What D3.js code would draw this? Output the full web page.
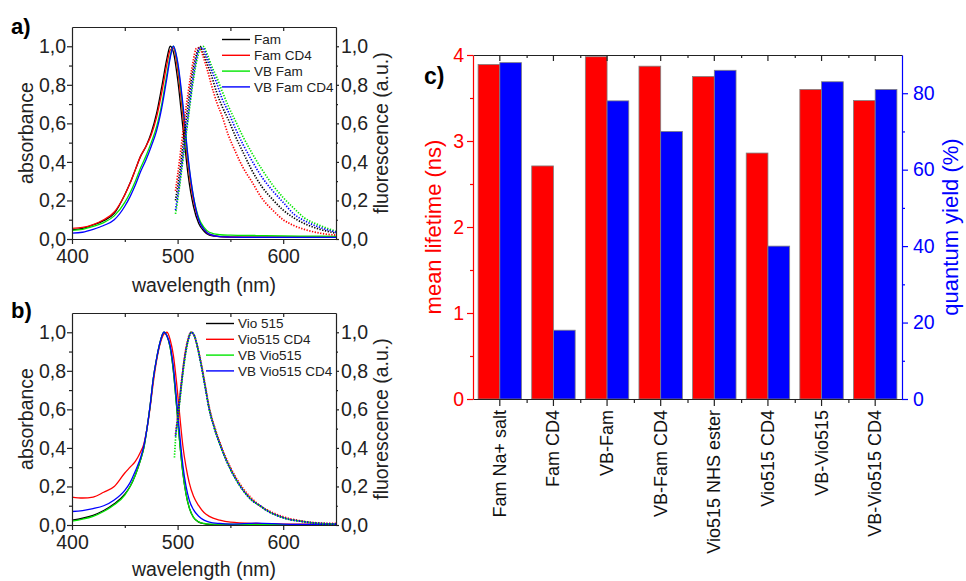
<!DOCTYPE html>
<html>
<head>
<meta charset="utf-8">
<script src="https://cdn.jsdelivr.net/npm/d3@7"></script>
<style>
body { margin: 0; background: #fff; }
svg { display: block; font-family: "Liberation Sans", Arial, sans-serif; }
</style>
</head>
<body>
<div id="chart"></div>
<script>
// ---- datos panel a) Fam ----
const absWlA = [400,410,420,430,440,450,455,460,465,470,475,480,485,490,493,496,500,505,510,515,520,525,530,540,550,575,600,625,650]
const absFam      = [.047,.055,.073,.095,.133,.23,.29,.36,.43,.48,.55,.65,.79,.94,1.0,.97,.83,.58,.33,.17,.08,.04,.02,.012,.01,.01,.01,.01,.01]
const absFamCD4   = [.055,.06,.075,.1,.14,.23,.29,.36,.43,.48,.54,.63,.76,.91,.98,.99,.88,.64,.38,.2,.1,.05,.025,.012,.01,.008,.008,.01,.01]
const absVBFam    = [.045,.05,.065,.085,.12,.19,.24,.3,.37,.43,.5,.58,.7,.86,.95,1.0,.91,.68,.41,.22,.11,.06,.035,.022,.02,.018,.016,.015,.014]
const absVBFamCD4 = [.03,.035,.05,.07,.1,.17,.22,.28,.35,.41,.48,.56,.68,.84,.94,1.0,.92,.7,.42,.22,.1,.05,.025,.012,.01,.008,.008,.008,.008]

const flWlA = [498,500,503,506,510,514,518,521,524,528,532,537,542,548,555,562,570,580,590,600,610,620,635,650]
const flFam      = [.2,.27,.39,.53,.7,.86,.96,1.0,.97,.91,.85,.76,.69,.62,.53,.45,.36,.27,.205,.15,.11,.08,.05,.03]
const flFamCD4   = [.25,.33,.46,.6,.76,.9,.99,.99,.95,.88,.8,.71,.64,.54,.45,.37,.3,.21,.15,.1,.07,.05,.03,.02]
const flVBFam    = [.13,.2,.32,.45,.62,.79,.92,.98,1.0,.96,.9,.84,.77,.69,.61,.53,.45,.36,.28,.215,.16,.11,.07,.04]
const flVBFamCD4 = [.15,.22,.34,.47,.64,.81,.94,.99,.99,.94,.88,.81,.73,.66,.57,.49,.41,.32,.25,.19,.13,.095,.06,.035]

// ---- datos panel b) Vio515 ----
const absWlB = [400,410,420,430,440,450,455,460,465,468,471,474,477,480,484,487,490,493,496,499,502,505,508,511,515,520,525,530,540,550,575,600,625,650]
const absVio      = [.025,.035,.05,.075,.11,.16,.2,.26,.34,.4,.5,.62,.76,.86,.96,1.0,.98,.92,.8,.62,.43,.27,.16,.09,.04,.015,.007,.003,0,0,0,0,0,0]
const absVioCD4   = [.145,.14,.145,.17,.2,.27,.3,.33,.38,.42,.5,.61,.74,.85,.95,.99,1.0,.96,.88,.74,.57,.41,.3,.22,.15,.1,.065,.045,.025,.015,.008,.005,.004,.004]
const absVBVio    = [.02,.03,.045,.07,.105,.155,.2,.26,.34,.4,.5,.62,.76,.86,.96,1.0,.98,.92,.8,.62,.43,.27,.16,.09,.04,.016,.008,.005,.005,.004,.002,.002,.002,.002]
const absVBVioCD4 = [.07,.075,.085,.1,.13,.18,.22,.28,.35,.41,.5,.62,.76,.86,.96,1.0,.98,.93,.82,.65,.47,.31,.2,.13,.08,.045,.025,.015,.008,.005,.01,.005,.003,.003]

const flWlB = [497,498,500,502,504,506,508,510,513,516,519,522,526,530,535,540,545,550,556,562,570,578,586,594,605,616,630,650]
const flVio      = [null,null,.55,.65,.75,.84,.91,.96,1.0,.98,.92,.84,.72,.6,.5,.42,.35,.29,.23,.18,.13,.1,.07,.05,.03,.02,.01,.005]
const flVioCD4   = [null,.47,.56,.66,.76,.85,.92,.97,1.0,.98,.92,.85,.73,.61,.51,.43,.36,.3,.24,.19,.14,.1,.075,.055,.035,.022,.012,.008]
const flVBVio    = [.35,.44,.54,.64,.74,.83,.9,.96,1.0,.98,.92,.84,.72,.6,.5,.42,.35,.29,.23,.18,.13,.1,.07,.05,.03,.02,.01,.005]
const flVBVioCD4 = [null,.46,.55,.65,.75,.84,.91,.96,1.0,.98,.92,.84,.72,.6,.5,.42,.35,.29,.23,.18,.13,.1,.07,.05,.03,.02,.01,.006]

// ---- datos panel c) ----
const categories = ["Fam Na+ salt", "Fam CD4", "VB-Fam", "VB-Fam CD4", "Vio515 NHS ester", "Vio515 CD4", "VB-Vio515", "VB-Vio515 CD4"]
const lifetime = [3.89, 2.71, 3.98, 3.87, 3.75, 2.86, 3.60, 3.47]
const quantumYield = [88, 18, 78, 70, 86, 40, 83, 81]

// ticks
const specTicks = [0, 0.2, 0.4, 0.6, 0.8, 1.0]
const specMinor = [0.1, 0.3, 0.5, 0.7, 0.9]
const wlTicks = [400, 500, 600]
const ltTicks = [0, 1, 2, 3, 4]
const ltMinor = [0.5, 1.5, 2.5, 3.5]
const qyTicks = [0, 20, 40, 60, 80]
const qyMinor = [10, 30, 50, 70]

const namesA = ["Fam", "Fam CD4", "VB Fam", "VB Fam CD4"]
const namesB = ["Vio 515", "Vio515 CD4", "VB Vio515", "VB Vio515 CD4"]
const colors = ["#000000", "#ff0000", "#00e600", "#0000ff"]

// constantes
const width = 966
const height = 581
const font = "Liberation Sans, Arial, sans-serif"
const commaFmt = d3.formatLocale({decimal: ",", thousands: ".", grouping: [3], currency: ["", ""]}).format(".1f")
const intFmt = d3.format("d")

const svg = d3.select("div#chart")
    .append("svg")
    .attr("width", width)
    .attr("height", height)

svg.append("rect").attr("width", width).attr("height", height).attr("fill", "#fff")

function styleAxis(g, color, size) {
    g.attr("font-size", size).attr("font-family", font)
    g.selectAll(".domain, .tick line").attr("stroke", color).attr("stroke-width", 1.2)
    g.selectAll(".tick text").attr("fill", color)
}

// panel de espectros
function drawSpectrum(cfg) {
    const x = d3.scaleLinear().domain([400, 650]).range([72, 336])
    const y = d3.scaleLinear().domain([0, 1.1]).range([cfg.bottom, cfg.top])
    const g = svg.append("g")

    const line = d3.line()
        .defined(d => d[1] != null)
        .x(d => x(d[0]))
        .y(d => y(d[1]))
        .curve(d3.curveMonotoneX)

    cfg.abs.forEach((vals, i) => {
        g.append("path")
            .attr("d", line(cfg.absWl.map((w, k) => [w, vals[k]])))
            .attr("fill", "none")
            .attr("stroke", colors[i])
            .attr("stroke-width", 1.3)
    })
    cfg.fl.forEach((vals, i) => {
        g.append("path")
            .attr("d", line(cfg.flWl.map((w, k) => [w, vals[k]])))
            .attr("fill", "none")
            .attr("stroke", colors[i])
            .attr("stroke-width", 1.7)
            .attr("stroke-dasharray", "1.3 1.5")
    })

    // ejes
    g.append("g").attr("transform", `translate(0,${cfg.bottom})`)
        .call(d3.axisBottom(x).tickValues(wlTicks).tickSize(5).tickPadding(cfg.xPad).tickSizeOuter(0).tickFormat(intFmt))
        .call(a => styleAxis(a, "#222", 19.5))
    g.append("g").attr("transform", `translate(0,${cfg.bottom})`)
        .call(d3.axisBottom(x).tickValues([450, 550]).tickSize(3).tickFormat(""))
        .call(a => { styleAxis(a, "#222", 10); a.select(".domain").remove() })
    g.append("g").attr("transform", `translate(0,${cfg.top})`)
        .call(d3.axisTop(x).tickValues([450, 500, 550, 600]).tickSize(-4).tickSizeOuter(0).tickFormat(""))
        .call(a => styleAxis(a, "#222", 10))
    g.append("g").attr("transform", "translate(72,0)")
        .call(d3.axisLeft(y).tickValues(specTicks).tickSize(5).tickPadding(1).tickSizeOuter(0).tickFormat(commaFmt))
        .call(a => styleAxis(a, "#222", 19.5))
    g.append("g").attr("transform", "translate(72,0)")
        .call(d3.axisLeft(y).tickValues(specMinor).tickSize(3).tickFormat(""))
        .call(a => { styleAxis(a, "#222", 10); a.select(".domain").remove() })
    g.append("g").attr("transform", "translate(336,0)")
        .call(d3.axisRight(y).tickValues(specTicks).tickSize(3).tickPadding(2).tickSizeOuter(0).tickFormat(commaFmt))
        .call(a => styleAxis(a, "#222", 19.5))
    g.append("g").attr("transform", "translate(336,0)")
        .call(d3.axisRight(y).tickValues(specMinor).tickSize(2).tickFormat(""))
        .call(a => { styleAxis(a, "#222", 10); a.select(".domain").remove() })

    const midY = (cfg.top + cfg.bottom) / 2
    g.append("text").attr("transform", `translate(33,${midY}) rotate(-90)`)
        .attr("text-anchor", "middle").attr("font-size", 19.5).attr("fill", "#222").text("absorbance")
    g.append("text").attr("transform", `translate(388,${midY}) rotate(-90)`)
        .attr("text-anchor", "middle").attr("font-size", 19.5).attr("fill", "#222").text("fluorescence (a.u.)")
    g.append("text").attr("x", 204).attr("y", cfg.xLabelY)
        .attr("text-anchor", "middle").attr("font-size", 19.5).attr("fill", "#222").text("wavelength (nm)")
    g.append("text").attr("x", 11).attr("y", cfg.letterY)
        .attr("font-size", 22).attr("font-weight", "bold").text(cfg.letter)

    // leyenda
    const leg = g.append("g").attr("transform", `translate(${cfg.legX},${cfg.legY})`)
    cfg.names.forEach((n, i) => {
        leg.append("line").attr("x1", 0).attr("x2", 28).attr("y1", i * 15.8).attr("y2", i * 15.8)
            .attr("stroke", colors[i]).attr("stroke-width", 1.4)
        leg.append("text").attr("x", 32).attr("y", i * 15.8).attr("dy", "0.35em")
            .attr("font-size", 13.5).attr("fill", "#222").text(n)
    })
}

drawSpectrum({
    top: 27, bottom: 239, absWl: absWlA, abs: [absFam, absFamCD4, absVBFam, absVBFamCD4],
    flWl: flWlA, fl: [flFam, flFamCD4, flVBFam, flVBFamCD4], names: namesA,
    legX: 222, legY: 39.5, xPad: 5, xLabelY: 292, letter: "a)", letterY: 34
})
drawSpectrum({
    top: 313, bottom: 525, absWl: absWlB, abs: [absVio, absVioCD4, absVBVio, absVBVioCD4],
    flWl: flWlB, fl: [flVio, flVioCD4, flVBVio, flVBVioCD4], names: namesB,
    legX: 206, legY: 323.5, xPad: 5, xLabelY: 576, letter: "b)", letterY: 318
})

// panel c) barras
const cLeft = 473, cRight = 902, cTop = 55, cBottom = 399
const xc = d3.scaleBand().domain(categories).range([cLeft, cRight]).paddingInner(0.19).paddingOuter(0.095)
const xs = d3.scaleBand().domain(["lt", "qy"]).range([0, xc.bandwidth()])
const yLt = d3.scaleLinear().domain([0, 4]).range([cBottom, cTop])
const yQy = d3.scaleLinear().domain([0, 90]).range([cBottom, cTop])

const bars = svg.append("g")
bars.selectAll("rect.lt").data(categories).enter().append("rect")
    .attr("class", "lt")
    .attr("x", d => xc(d) + xs("lt"))
    .attr("y", (d, i) => yLt(lifetime[i]))
    .attr("width", xs.bandwidth())
    .attr("height", (d, i) => cBottom - yLt(lifetime[i]))
    .attr("fill", "#ff0000").attr("stroke", "#808080").attr("stroke-width", 0.8)
bars.selectAll("rect.qy").data(categories).enter().append("rect")
    .attr("class", "qy")
    .attr("x", d => xc(d) + xs("qy"))
    .attr("y", (d, i) => yQy(quantumYield[i]))
    .attr("width", xs.bandwidth())
    .attr("height", (d, i) => cBottom - yQy(quantumYield[i]))
    .attr("fill", "#0000ff").attr("stroke", "#808080").attr("stroke-width", 0.8)

const bounds = categories.slice(1).map(c => xc(c) - xc.step() * xc.paddingInner() / 2)
const xMinor = d3.scaleLinear().domain([cLeft, cRight]).range([cLeft, cRight])

// ejes c
svg.append("g").attr("transform", `translate(0,${cBottom})`)
    .call(d3.axisBottom(xc).tickSize(7).tickSizeOuter(0).tickFormat(""))
    .call(a => styleAxis(a, "#222", 10))
svg.append("g").attr("transform", `translate(0,${cBottom})`)
    .call(d3.axisBottom(xMinor).tickValues(bounds).tickSize(4).tickFormat(""))
    .call(a => { styleAxis(a, "#222", 10); a.select(".domain").remove() })
svg.append("g").attr("transform", `translate(0,${cTop})`)
    .call(d3.axisTop(xc).tickSize(-6).tickSizeOuter(0).tickFormat(""))
    .call(a => styleAxis(a, "#222", 10))
svg.append("g").attr("transform", `translate(0,${cTop})`)
    .call(d3.axisTop(xMinor).tickValues(bounds).tickSize(-3).tickFormat(""))
    .call(a => { styleAxis(a, "#222", 10); a.select(".domain").remove() })

svg.append("g").attr("transform", `translate(${cLeft},0)`)
    .call(d3.axisLeft(yLt).tickValues(ltTicks).tickSize(6).tickPadding(3).tickSizeOuter(0).tickFormat(intFmt))
    .call(a => styleAxis(a, "#ff0000", 19.5))
svg.append("g").attr("transform", `translate(${cLeft},0)`)
    .call(d3.axisLeft(yLt).tickValues(ltMinor).tickSize(3).tickFormat(""))
    .call(a => { styleAxis(a, "#ff0000", 10); a.select(".domain").remove() })
svg.append("g").attr("transform", `translate(${cRight},0)`)
    .call(d3.axisRight(yQy).tickValues(qyTicks).tickSize(6).tickPadding(5).tickSizeOuter(0).tickFormat(intFmt))
    .call(a => styleAxis(a, "#0000ff", 19.5))
svg.append("g").attr("transform", `translate(${cRight},0)`)
    .call(d3.axisRight(yQy).tickValues(qyMinor).tickSize(3).tickFormat(""))
    .call(a => { styleAxis(a, "#0000ff", 10); a.select(".domain").remove() })

// etiquetas de categorías
svg.append("g").selectAll("text").data(categories).enter().append("text")
    .attr("transform", d => `translate(${xc(d) + xc.bandwidth() / 2 + 6},410) rotate(-90)`)
    .attr("text-anchor", "end")
    .attr("font-size", 18)
    .attr("fill", "#111")
    .text(d => d)

svg.append("text").attr("transform", `translate(441,${(cTop + cBottom) / 2}) rotate(-90)`)
    .attr("text-anchor", "middle").attr("font-size", 22).attr("fill", "#ff0000").text("mean lifetime (ns)")
svg.append("text").attr("transform", `translate(958,${(cTop + cBottom) / 2}) rotate(-90)`)
    .attr("text-anchor", "middle").attr("font-size", 22).attr("fill", "#0000ff").text("quantum yield (%)")
svg.append("text").attr("x", 424).attr("y", 84)
    .attr("font-size", 23).attr("font-weight", "bold").text("c)")
</script>
</body>
</html>
